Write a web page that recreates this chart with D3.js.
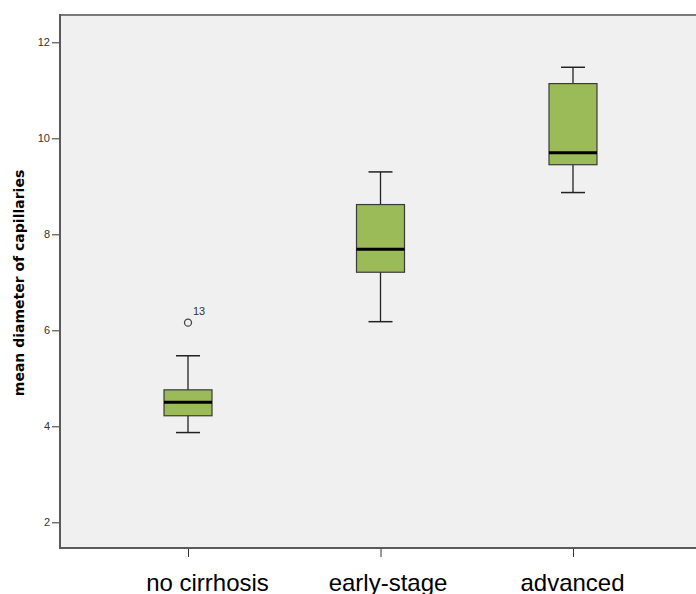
<!DOCTYPE html>
<html>
<head>
<meta charset="utf-8">
<script src="https://cdn.jsdelivr.net/npm/d3@7"></script>
<style>
  body { margin: 0; background: #fff; }
  svg { display: block; }
</style>
</head>
<body>
<div id="chart"></div>
<script>
// values
var categories = ["no cirrhosis", "early-stage", "advanced"];
var whiskerLow = [3.87, 6.18, 8.87];
var q1 = [4.22, 7.21, 9.45];
var median = [4.50, 7.69, 9.70];
var q3 = [4.76, 8.62, 11.14];
var whiskerHigh = [5.47, 9.30, 11.48];
var outlierCats = ["no cirrhosis"];
var outlierValues = [6.16];
var outlierLabels = ["13"];
var yTicks = [2, 4, 6, 8, 10, 12];

var W = 696, H = 594;
var plotL = 60, plotR = 701, plotT = 15, plotB = 548;
var labelDx = [19, 7, -1]; // x label nudges as in the original

var boxes = categories.map(function(c, i) {
  return {cat: c, lo: whiskerLow[i], q1: q1[i], med: median[i], q3: q3[i], hi: whiskerHigh[i]};
});

var x = d3.scalePoint().domain(categories).range([plotL, plotR]).padding(0.665);
var y = d3.scaleLinear().domain([1.465, 12.569]).range([plotB, plotT]);

var svg = d3.select("#chart").append("svg")
    .attr("width", W)
    .attr("height", H);

svg.append("rect")
    .attr("x", plotL).attr("y", plotT)
    .attr("width", plotR - plotL).attr("height", plotB - plotT)
    .attr("fill", "#f0f0f0");

// top frame line
svg.append("line")
    .attr("x1", plotL).attr("x2", plotR)
    .attr("y1", plotT).attr("y2", plotT)
    .attr("stroke", "#7a7a7a")
    .attr("stroke-width", 2);

// y axis
var yAxis = svg.append("g")
    .attr("transform", "translate(" + plotL + ",0)")
    .call(d3.axisLeft(y).tickValues(yTicks).tickSize(8).tickPadding(2).tickFormat(d3.format("d")));
yAxis.select(".domain").remove();
yAxis.selectAll(".tick line").attr("stroke", "#333");
yAxis.selectAll(".tick text")
    .attr("fill", "#333")
    .style("font", "11px 'Liberation Sans', Arial, sans-serif");

// x axis
var xAxis = svg.append("g")
    .attr("transform", "translate(0," + plotB + ")")
    .call(d3.axisBottom(x).tickSize(9).tickPadding(0));
xAxis.select(".domain").remove();
xAxis.selectAll(".tick line").attr("stroke", "#333");
xAxis.selectAll(".tick text")
    .attr("fill", "#000")
    .attr("y", 43)
    .attr("dy", 0)
    .attr("dx", function(d, i) { return labelDx[i]; })
    .style("font", "24px 'Liberation Sans', Arial, sans-serif");

// axis lines
svg.append("line")
    .attr("x1", plotL).attr("x2", plotL)
    .attr("y1", plotT - 1).attr("y2", plotB + 1)
    .attr("stroke", "#5a5a5a").attr("stroke-width", 2);
svg.append("line")
    .attr("x1", plotL - 1).attr("x2", plotR)
    .attr("y1", plotB).attr("y2", plotB)
    .attr("stroke", "#5a5a5a").attr("stroke-width", 2);

// y title
svg.append("text")
    .attr("transform", "translate(24,283) rotate(-90)")
    .attr("text-anchor", "middle")
    .style("font", "bold 14px 'DejaVu Sans', sans-serif")
    .attr("fill", "#000")
    .text("mean diameter of capillaries");

// boxes
var boxW = 48, capW = 24;
var g = svg.selectAll(".box")
    .data(boxes)
  .enter().append("g")
    .attr("class", "box");

g.append("line") // whisker stem
    .attr("x1", function(d) { return x(d.cat); })
    .attr("x2", function(d) { return x(d.cat); })
    .attr("y1", function(d) { return y(d.lo); })
    .attr("y2", function(d) { return y(d.hi); })
    .attr("stroke", "#222").attr("stroke-width", 1.3);

g.selectAll(".cap")
    .data(function(d) { return [{cat: d.cat, v: d.lo}, {cat: d.cat, v: d.hi}]; })
  .enter().append("line")
    .attr("class", "cap")
    .attr("x1", function(d) { return x(d.cat) - capW / 2; })
    .attr("x2", function(d) { return x(d.cat) + capW / 2; })
    .attr("y1", function(d) { return y(d.v); })
    .attr("y2", function(d) { return y(d.v); })
    .attr("stroke", "#222").attr("stroke-width", 1.5);

g.append("rect")
    .attr("x", function(d) { return x(d.cat) - boxW / 2; })
    .attr("y", function(d) { return y(d.q3); })
    .attr("width", boxW)
    .attr("height", function(d) { return y(d.q1) - y(d.q3); })
    .attr("fill", "#9bbb59")
    .attr("stroke", "#3a3a3a")
    .attr("stroke-width", 1.2);

g.append("line") // median
    .attr("x1", function(d) { return x(d.cat) - boxW / 2; })
    .attr("x2", function(d) { return x(d.cat) + boxW / 2; })
    .attr("y1", function(d) { return y(d.med); })
    .attr("y2", function(d) { return y(d.med); })
    .attr("stroke", "#000").attr("stroke-width", 3);

// outliers
var outliers = outlierCats.map(function(c, i) {
  return {cat: c, v: outlierValues[i], label: outlierLabels[i]};
});
svg.selectAll(".outlier")
    .data(outliers)
  .enter().append("circle")
    .attr("class", "outlier")
    .attr("cx", function(d) { return x(d.cat); })
    .attr("cy", function(d) { return y(d.v); })
    .attr("r", 3.5)
    .attr("fill", "none")
    .attr("stroke", "#444")
    .attr("stroke-width", 1.3);

svg.selectAll(".outlier-label")
    .data(outliers)
  .enter().append("text")
    .attr("class", "outlier-label")
    .attr("x", function(d) { return x(d.cat) + 5; })
    .attr("y", function(d) { return y(d.v) - 8; })
    .attr("fill", "#333")
    .style("font", "11px 'Liberation Sans', Arial, sans-serif")
    .text(function(d) { return d.label; });
</script>
</body>
</html>
